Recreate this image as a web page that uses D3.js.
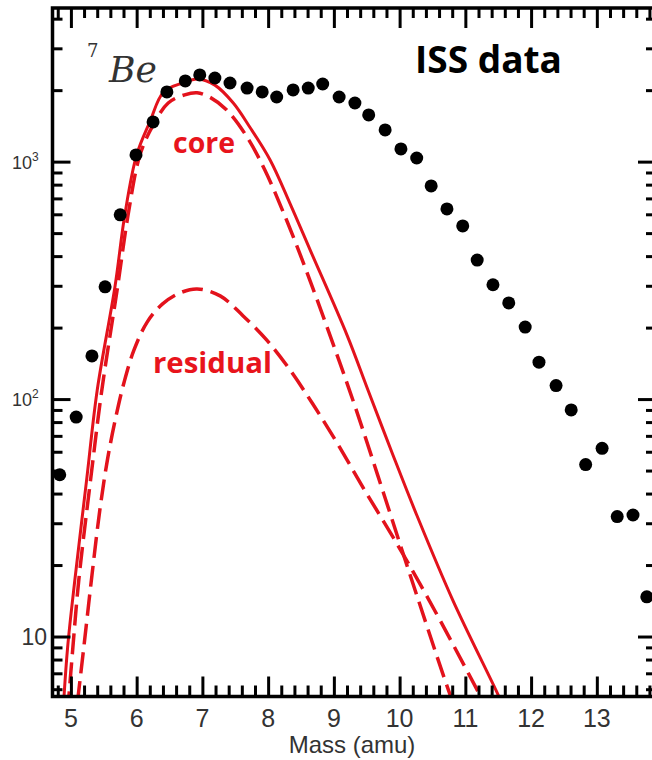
<!DOCTYPE html>
<html>
<head>
<meta charset="utf-8">
<script src="https://cdn.jsdelivr.net/npm/d3@7"></script>
<style>
  body { margin: 0; background: #fff; }
  svg { display: block; }
</style>
</head>
<body>
<svg id="chart"></svg>
<script>
// ISS data points (mass bins, counts)
const dotMass = [4.83, 5.08, 5.32, 5.52, 5.75, 5.99, 6.25, 6.46, 6.74, 6.96, 7.19, 7.42, 7.68, 7.91,
  8.13, 8.38, 8.61, 8.83, 9.08, 9.32, 9.53, 9.78, 10.02, 10.26, 10.48, 10.72, 10.96, 11.18,
  11.42, 11.66, 11.91, 12.12, 12.38, 12.61, 12.83, 13.08, 13.31, 13.55, 13.76];
const dotCounts = [48, 84, 152, 297, 597, 1067, 1469, 1965, 2188, 2318, 2250, 2143, 2041, 1965,
  1871, 2004, 2041, 2123, 1871, 1766, 1573, 1360, 1131, 1036, 790, 632, 536, 385,
  303, 254, 201, 143, 114, 90, 53, 62, 32, 32.5, 14.7];

// total fit (solid)
const totalMass = [4.88, 4.95, 5.06, 5.24, 5.40, 5.67, 5.82, 6.00, 6.20, 6.41, 6.70, 6.93, 7.19, 7.47,
  7.72, 8.03, 8.33, 8.64, 9.20, 9.52, 9.90, 10.26, 10.81, 11.50, 11.60];
const totalVals = [4.8, 9.0, 17.3, 45.9, 109, 297, 597, 1067, 1469, 1965, 2143, 2230, 2100, 1765,
  1399, 1016, 669, 424, 186, 109, 58, 32.5, 14.2, 5.67, 4.9];

// core component (dashed)
const coreMass = [4.95, 5.03, 5.12, 5.30, 5.47, 5.71, 5.87, 6.05, 6.25, 6.48, 6.73, 6.92, 7.11, 7.37,
  7.68, 7.95, 8.23, 8.52, 8.94, 9.32, 9.75, 10.20, 10.77, 10.85];
const coreVals = [4.8, 9.0, 17.3, 45.9, 109, 297, 597, 1067, 1426, 1766, 1911, 1950, 1870, 1650,
  1269, 922, 613, 385, 186, 93.5, 40.6, 16.8, 5.67, 5.0];

// residual component (dashed)
const residMass = [5.10, 5.20, 5.32, 5.44, 5.56, 5.69, 5.81, 5.96, 6.16, 6.39, 6.66, 6.92, 7.27,
  7.62, 7.98, 8.33, 8.68, 9.05, 9.44, 9.90, 10.42, 11.22, 11.32];
const residVals = [5.3, 9.2, 18.1, 34.1, 56.4, 85.6, 118, 161, 211, 251, 280, 291, 272,
  224, 177, 133, 95.3, 65.3, 42.6, 26.2, 14.7, 5.67, 5.0];

const xMajor = [5, 6, 7, 8, 9, 10, 11, 12, 13];
const yMajor = [10, 100, 1000];

const W = 652, H = 760;
const m = { left: 52.5, right: 656, top: 8, bottom: 696.5 };

const svg = d3.select("#chart").attr("width", W).attr("height", H);
svg.append("rect").attr("width", W).attr("height", H).attr("fill", "#fff");

const x = d3.scaleLinear().domain([4.72, 13.9]).range([m.left, m.right]);
const y = d3.scaleLog().domain([5.59, 4436]).range([m.bottom, m.top]);

const xMinor = d3.range(4.8, 13.9, 0.2).filter(v => Math.abs(v - Math.round(v)) > 0.01);
const yMinor = [];
[1, 10, 100, 1000].forEach(d => { for (let k = 2; k <= 9; k++) { const v = d * k; if (v > 5.59 && v < 4436) yMinor.push(v); } });

// clip
svg.append("clipPath").attr("id", "clip")
  .append("rect").attr("x", m.left).attr("y", m.top).attr("width", m.right - m.left).attr("height", m.bottom - m.top);

const plot = svg.append("g").attr("clip-path", "url(#clip)");

const line = d3.line().x(d => x(d[0])).y(d => y(d[1])).curve(d3.curveCatmullRom.alpha(0.5));
const red = "#e3121c";

plot.append("path")
  .datum(d3.zip(totalMass, totalVals))
  .attr("d", line).attr("fill", "none").attr("stroke", red).attr("stroke-width", 3);
plot.append("path")
  .datum(d3.zip(coreMass, coreVals))
  .attr("d", line).attr("fill", "none").attr("stroke", red).attr("stroke-width", 3.5)
  .attr("stroke-dasharray", "21,8");
plot.append("path")
  .datum(d3.zip(residMass, residVals))
  .attr("d", line).attr("fill", "none").attr("stroke", red).attr("stroke-width", 3.5)
  .attr("stroke-dasharray", "21,8");

// dots
svg.append("g").selectAll("circle")
  .data(d3.zip(dotMass, dotCounts))
  .enter()
  .append("circle")
  .attr("cx", d => x(d[0]))
  .attr("cy", d => y(d[1]))
  .attr("r", 6.5)
  .attr("fill", "#000");

// axes ticks (inward)
function ticks(g) {
  g.select(".domain").remove();
  g.selectAll("line").attr("stroke", "#000").attr("stroke-width", 3);
  g.selectAll("text").remove();
}
svg.append("g").attr("transform", `translate(0,${m.bottom})`)
  .call(d3.axisBottom(x).tickValues(xMajor).tickSize(-20)).call(ticks);
svg.append("g").attr("transform", `translate(0,${m.bottom})`)
  .call(d3.axisBottom(x).tickValues(xMinor).tickSize(-11)).call(ticks);
svg.append("g").attr("transform", `translate(0,${m.top})`)
  .call(d3.axisTop(x).tickValues(xMajor).tickSize(-20)).call(ticks);
svg.append("g").attr("transform", `translate(0,${m.top})`)
  .call(d3.axisTop(x).tickValues(xMinor).tickSize(-10)).call(ticks);
svg.append("g").attr("transform", `translate(${m.left},0)`)
  .call(d3.axisLeft(y).tickValues(yMajor).tickSize(-18)).call(ticks);
svg.append("g").attr("transform", `translate(${m.left},0)`)
  .call(d3.axisLeft(y).tickValues(yMinor).tickSize(-10)).call(ticks);
svg.append("g").attr("transform", `translate(${m.right},0)`)
  .call(d3.axisRight(y).tickValues(yMajor).tickSize(-18)).call(ticks);
svg.append("g").attr("transform", `translate(${m.right},0)`)
  .call(d3.axisRight(y).tickValues(yMinor).tickSize(-10)).call(ticks);

svg.append("rect")
  .attr("x", m.left).attr("y", m.top).attr("width", m.right - m.left).attr("height", m.bottom - m.top)
  .attr("fill", "none").attr("stroke", "#000").attr("stroke-width", 3.5);

// tick labels
svg.append("g").selectAll("text")
  .data(xMajor)
  .enter()
  .append("text")
  .attr("x", d => x(d))
  .attr("y", 727)
  .attr("text-anchor", "middle")
  .style("font-family", "Liberation Sans, Arial, sans-serif")
  .style("font-size", "25px")
  .style("fill", "#333")
  .text(d => d);

const yl = svg.append("g")
  .style("font-family", "Liberation Sans, Arial, sans-serif")
  .style("fill", "#333");
yMajor.forEach(v => {
  const p = Math.round(Math.log10(v));
  if (p === 1) {
    yl.append("text").attr("x", 47).attr("y", y(v) + 8).attr("text-anchor", "end")
      .style("font-size", "23px").text("10");
  } else {
    const t = yl.append("text").attr("x", 12).attr("y", y(v) + 7).style("font-size", "18px");
    t.append("tspan").text("10");
    t.append("tspan").attr("dy", -8).style("font-size", "12px").text(p);
  }
});

svg.append("text")
  .attr("x", 352).attr("y", 753)
  .attr("text-anchor", "middle")
  .style("font-family", "Liberation Sans, Arial, sans-serif")
  .style("font-size", "24px")
  .style("fill", "#333")
  .text("Mass (amu)");

// annotations
svg.append("text").attr("x", 87).attr("y", 57)
  .style("font-family", "DejaVu Serif, serif").style("font-size", "18px").style("fill", "#333")
  .text("7");
svg.append("text").attr("x", 109).attr("y", 82)
  .attr("textLength", 48).attr("lengthAdjust", "spacingAndGlyphs")
  .style("font-family", "DejaVu Serif, serif").style("font-style", "italic")
  .style("font-size", "35px").style("fill", "#333")
  .text("Be");

svg.append("text").attr("x", 415).attr("y", 73)
  .attr("textLength", 147).attr("lengthAdjust", "spacingAndGlyphs")
  .style("font-family", "Open Sans, sans-serif").style("font-weight", "bold")
  .style("font-size", "37px").style("fill", "#000")
  .text("ISS data");

svg.append("text").attr("x", 173).attr("y", 153)
  .attr("textLength", 62).attr("lengthAdjust", "spacingAndGlyphs")
  .style("font-family", "Open Sans, sans-serif").style("font-weight", "bold")
  .style("font-size", "28px").style("fill", "#e8141c")
  .text("core");

svg.append("text").attr("x", 153).attr("y", 373)
  .attr("textLength", 119).attr("lengthAdjust", "spacingAndGlyphs")
  .style("font-family", "Open Sans, sans-serif").style("font-weight", "bold")
  .style("font-size", "28px").style("fill", "#e8141c")
  .text("residual");
</script>
</body>
</html>
